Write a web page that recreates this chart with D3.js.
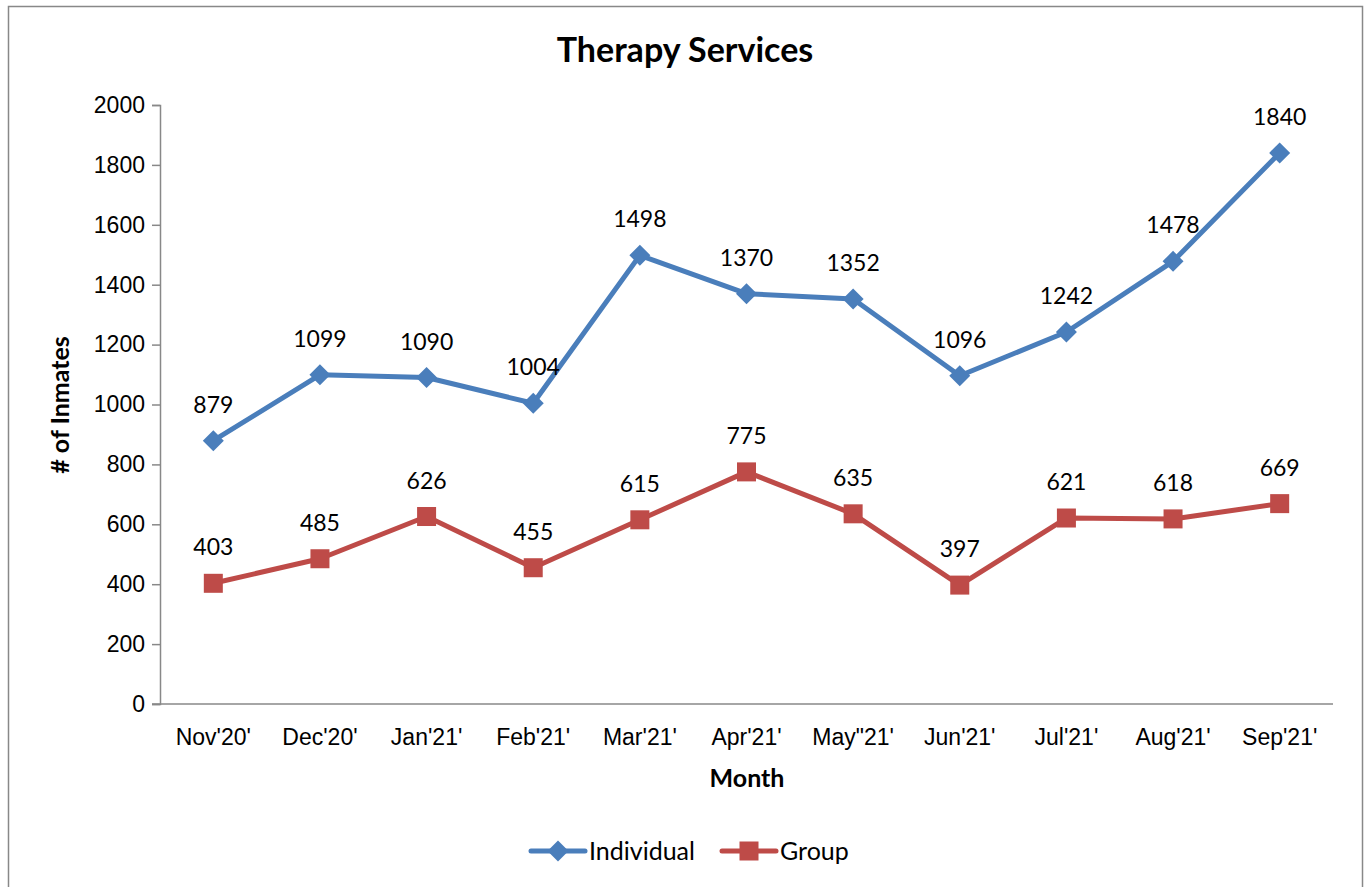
<!DOCTYPE html>
<html>
<head>
<meta charset="utf-8">
<script src="https://cdn.jsdelivr.net/npm/d3@7"></script>
<style>
    body { margin: 0; background: #fff; }
    svg { font-family: Lato, "Open Sans", sans-serif; }
</style>
</head>
<body>
<div id="chart"></div>
<script>
// data
const months = ["Nov'20'", "Dec'20'", "Jan'21'", "Feb'21'", "Mar'21'", "Apr'21'", "May\"21'", "Jun'21'", "Jul'21'", "Aug'21'", "Sep'21'"];
const individual = [879, 1099, 1090, 1004, 1498, 1370, 1352, 1096, 1242, 1478, 1840];
const group = [403, 485, 626, 455, 615, 775, 635, 397, 621, 618, 669];
const yTicks = [0, 200, 400, 600, 800, 1000, 1200, 1400, 1600, 1800, 2000];

const width = 1366, height = 887;
const margin = {top: 105, right: 33, bottom: 183, left: 160};

const svg = d3.select("#chart").append("svg")
    .attr("width", width)
    .attr("height", height);

// outer chart border
svg.append("rect")
    .attr("x", 8.5).attr("y", 6.5)
    .attr("width", 1354).attr("height", 900)
    .attr("fill", "none")
    .attr("stroke", "#888")
    .attr("stroke-width", 1.5);

const x = d3.scaleBand()
    .domain(months)
    .range([margin.left, width - margin.right]);

const y = d3.scaleLinear()
    .domain([0, 2000])
    .range([height - margin.bottom, margin.top]);

// axes
const yAxis = svg.append("g")
    .attr("transform", `translate(${margin.left},0)`)
    .call(d3.axisLeft(y).tickValues(yTicks).tickFormat(d3.format("d")).tickSize(8).tickPadding(7));
yAxis.select(".domain").attr("stroke", "#888").attr("stroke-width", 1.5);
yAxis.selectAll(".tick line").attr("stroke", "#888").attr("stroke-width", 1.5);
yAxis.selectAll("text").attr("font-size", 23).attr("fill", "#000");

const xAxis = svg.append("g")
    .attr("transform", `translate(0,${y(0)})`)
    .call(d3.axisBottom(x).tickSize(0).tickPadding(25).tickSizeOuter(0));
xAxis.select(".domain").attr("stroke", "#888").attr("stroke-width", 1.5)
    .attr("d", `M${margin.left - 8},0H${width - margin.right}`);
xAxis.selectAll("text").attr("font-size", 23).attr("fill", "#000");

// titles
svg.append("text")
    .attr("x", 685).attr("y", 62)
    .attr("text-anchor", "middle")
    .attr("font-size", 34).attr("font-weight", "bold")
    .text("Therapy Services");

svg.append("text")
    .attr("transform", "translate(69,405) rotate(-90)")
    .attr("text-anchor", "middle")
    .attr("font-size", 25).attr("font-weight", "bold")
    .text("# of Inmates");

svg.append("text")
    .attr("x", 747).attr("y", 787)
    .attr("text-anchor", "middle")
    .attr("font-size", 25).attr("font-weight", "bold")
    .text("Month");

const series = [
    {name: "Individual", values: individual, color: "#4a7ebb", shape: "diamond"},
    {name: "Group", values: group, color: "#be4b48", shape: "square"}
];

const cx = (d, i) => x(months[i]) + x.bandwidth() / 2;

function marker(g, shape, color) {
    if (shape === "diamond") {
        g.append("path")
            .attr("d", "M0,-10.5L10.5,0L0,10.5L-10.5,0Z")
            .attr("fill", color);
    } else {
        g.append("rect")
            .attr("x", -9.5).attr("y", -9.5)
            .attr("width", 19).attr("height", 19)
            .attr("fill", color);
    }
}

series.forEach(s => {
    const line = d3.line()
        .x(cx)
        .y(d => y(d));

    svg.append("path")
        .datum(s.values)
        .attr("d", line)
        .attr("fill", "none")
        .attr("stroke", s.color)
        .attr("stroke-width", 5)
        .attr("stroke-linejoin", "round");

    s.values.forEach((v, i) => {
        const g = svg.append("g")
            .attr("transform", `translate(${cx(v, i)},${y(v)})`);
        marker(g, s.shape, s.color);

        svg.append("text")
            .attr("x", cx(v, i))
            .attr("y", y(v) - 28)
            .attr("text-anchor", "middle")
            .attr("font-size", 23)
            .text(v);
    });
});

// legend
const legend = svg.append("g").attr("transform", "translate(0,851)");
const legendPos = [531, 722];
series.forEach((s, i) => {
    const lx = legendPos[i];
    legend.append("line")
        .attr("x1", lx).attr("x2", lx + 54)
        .attr("stroke", s.color)
        .attr("stroke-width", 5)
        .attr("stroke-linecap", "round");
    const g = legend.append("g").attr("transform", `translate(${lx + 27},0)`);
    marker(g, s.shape, s.color);
    legend.append("text")
        .attr("x", lx + 58)
        .attr("y", 9)
        .attr("font-size", 25)
        .text(s.name);
});
</script>
</body>
</html>
